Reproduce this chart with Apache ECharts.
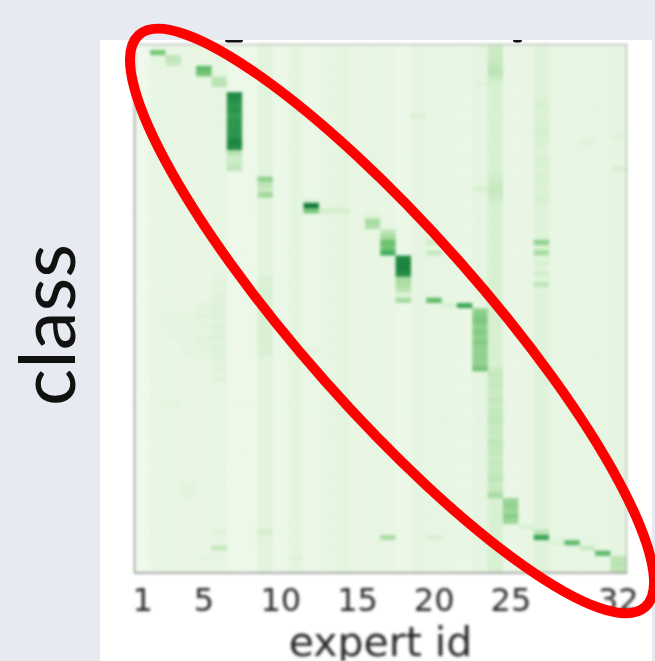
<!DOCTYPE html>
<html><head><meta charset="utf-8">
<style>
html,body{margin:0;padding:0;width:655px;height:661px;overflow:hidden;background:#e7eaf0}
#panel{position:absolute;left:100px;top:40px;width:552px;height:621px;background:#fff}
#heat,#over{position:absolute;left:0;top:0;width:655px;height:661px}
#heat{filter:blur(1.5px)}
</style>
<script src="https://cdn.jsdelivr.net/npm/echarts@6/dist/echarts.min.js"></script>
</head><body>
<div id="panel"></div><div id="heat"></div><div id="over"></div>
<script>
const expertIds = ['1','2','3','4','5','6','7','8','9','10','11','12','13','14','15','16','17','18','19','20','21','22','23','24','25','26','27','28','29','30','31','32'];
const labelledIds = ['1','5','10','15','20','25','32'];
const classCount = 100;
// Background level of each expert's column
const columnLevels = [.06,.11,.10,.10,.10,.11,.07,.07,.14,.08,.13,.08,.11,.13,.10,.11,.10,.08,.12,.11,.11,.09,.12,.18,.09,.10,.15,.11,.11,.11,.11,.12];
// Bright cells: [column index, first row, values for consecutive rows]
const diagonalBlocks = [
  [1,1,[.5]],[2,2,[.28,.25]],[4,4,[.55,.5]],[5,6,[.28,.3]],
  [6,9,[.76,.74,.7,.72,.68,.7,.7,.72,.72,.78,.74,.3,.22,.24,.28]],
  [8,25,[.42,.28,.24,.38]],[11,29,[.15,.82,.5]],[12,31,[.2]],[13,31,[.2]],
  [15,32,[.15,.36,.32]],[16,35,[.28,.36,.52,.5,.62]],
  [17,40,[.76,.78,.78,.74,.35,.34,.3,.15,.36]],[19,48,[.55]],[21,49,[.65]],[20,49,[.18]],
  [22,50,[.42,.46,.48,.42,.46,.42,.46,.42,.42,.42,.42,.5]],
  [23,85,[.36]],[24,86,[.4,.42,.38,.44,.38]],[25,91,[.17]],[26,92,[.28,.65]],[27,94,[.16]],
  [28,94,[.55]],[29,95,[.24]],[30,96,[.55]],[31,97,[.28,.3,.28]]
];
// Faint off-diagonal marks and stripes
const faintBlocks = [
  [23,0,[.22,.24,.24,.25,.28,.28,.22]],[22,7,[.15]],[18,13,[.17]],[18,20,[.13]],
  [26,10,[.17,.18,.17,.16,.18,.17,.19,.18,.17,.16,.15,.17,.18,.16,.17,.18,.17,.16,.17,.18]],
  [26,37,[.42,.18,.36,.14,.18,.14,.2,.14,.28,.14]],[19,37,[.22,.1,.26]],
  [22,27,[.18]],[23,24,[.21,.21,.23,.25,.23,.22]],[31,17,[.15]],[31,23,[.18]],[29,18,[.15]],
  [23,61,[.22,.26,.24,.26,.24,.23,.26,.24,.26,.26,.28,.24,.26,.24,.28,.26,.26,.23,.26,.24,.26,.28,.24,.26]],
  [5,44,[.13,.15,.14,.15,.14,.16,.15,.16,.14,.16,.15,.16,.14,.16,.15,.16,.14,.15,.13,.15]],
  [4,49,[.14,.13,.15,.13,.14,.12,.15,.13,.14,.12,.13]],
  [3,50,[.12,.13,.12,.13,.12,.12,.13,.12,.13]],[2,50,[.11,.12,.11,.12,.11,.12]],
  [8,44,[.18,.16,.18,.17,.18,.17,.18,.17,.18,.17,.18,.17,.18,.17,.18]],
  [8,92,[.2]],[16,93,[.34]],[19,93,[.18]],[5,95,[.26]],[5,92,[.15]],[4,97,[.13]],[10,97,[.15]],
  [3,83,[.14,.13,.14]],[2,67,[.13,.13]],[11,57,[.12,.12]]
];
const greens = ['#f7fcf5','#e5f5e0','#c7e9c0','#a1d99b','#74c476','#41ab5d','#238b45','#006d2c','#00441b'];
const grays = {frame:'#8a8a8a', spine:'#141c14', text:'#262626', ring:'#fe0000'};

const classRows = Array.from({length:classCount},(_,i)=>String(i+1));
const table = classRows.map(()=>columnLevels.slice());
for (const [c,r,vals] of faintBlocks.concat(diagonalBlocks)) vals.forEach((v,i)=>{table[r+i][c]=v;});
const cells = [];
table.forEach((row,r)=>row.forEach((v,c)=>cells.push([c,r,v])));

const heat = echarts.init(document.getElementById('heat'),null,{renderer:'canvas'});
heat.setOption({
  animation:false,
  backgroundColor:'transparent',
  grid:{left:135,top:45,width:491,height:527,outerBoundsMode:'none',containLabel:false,show:true,borderColor:grays.frame,borderWidth:2,backgroundColor:'transparent'},
  xAxis:{type:'category',data:expertIds,
    name:'expert id',nameLocation:'middle',nameGap:53,
    nameTextStyle:{fontFamily:'DejaVu Sans',fontSize:41,color:grays.text},
    axisLine:{show:true,lineStyle:{color:grays.frame,width:2.5}},axisTick:{show:false},splitLine:{show:false},
    axisLabel:{interval:(i,v)=>labelledIds.includes(v),fontFamily:'DejaVu Sans',fontSize:32,color:grays.text,margin:15,hideOverlap:false}},
  yAxis:{type:'category',data:classRows,inverse:true,
    axisLine:{show:true,lineStyle:{color:grays.spine,width:2.5}},axisTick:{show:false},axisLabel:{show:false},splitLine:{show:false}},
  visualMap:{show:false,min:0,max:1,dimension:2,inRange:{color:greens}},
  series:[{type:'heatmap',data:cells,silent:true,progressive:0,itemStyle:{borderWidth:0}}]
});

const over = echarts.init(document.getElementById('over'),null,{renderer:'canvas'});
over.setOption({
  animation:false,
  backgroundColor:'transparent',
  graphic:[
    {type:'rect',shape:{x:225,y:40,width:18,height:2.5,r:[0,0,3,3]},style:{fill:'#111'}},
    {type:'rect',shape:{x:513,y:40,width:9,height:2.5,r:[0,0,3,3]},style:{fill:'#111'}},
    {type:'text',x:50,y:325,rotation:Math.PI/2,originX:0,originY:0,
      style:{text:'class',font:'78px Lato',fill:'#111',align:'center',verticalAlign:'middle'}},
    {type:'ellipse',x:392,y:321,rotation:-48.5*Math.PI/180,
      shape:{cx:0,cy:0,rx:382,ry:90},style:{fill:'none',stroke:grays.ring,lineWidth:10}}
  ]
});
</script>
</body></html>
